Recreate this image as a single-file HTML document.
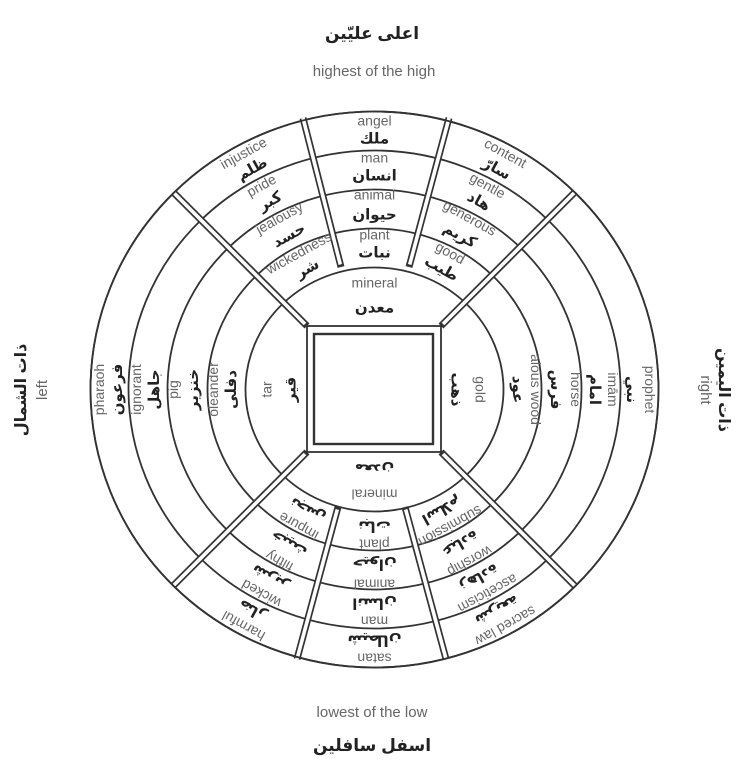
<!DOCTYPE html>
<html><head><meta charset="utf-8"><style>
html,body{margin:0;padding:0;background:#fff;}
svg{display:block;}
.e{font-family:"Liberation Sans",sans-serif;font-size:14px;fill:#666;text-anchor:middle;}
.a{font-family:"Liberation Sans","Noto Sans CJK SC","DejaVu Sans",sans-serif;font-size:15px;font-weight:bold;fill:#222;text-anchor:middle;}
.ring{fill:none;stroke:#333;stroke-width:1.8;}
.dk{stroke:#333;stroke-width:7;}
.wt{stroke:#fff;stroke-width:3.6;}
</style></head><body>
<svg width="751" height="768" viewBox="0 0 751 768" xmlns="http://www.w3.org/2000/svg">
<rect width="751" height="768" fill="#fff"/>
<text x="372" y="39" class="a" style="font-size:17px">اعلى عليّين</text>
<text x="374" y="76" class="e" style="font-size:15px">highest of the high</text>
<text x="372" y="717" class="e" style="font-size:15px">lowest of the low</text>
<text x="372" y="751" class="a" style="font-size:17px">اسفل سافلين</text>
<text transform="translate(26,390) rotate(-90)" class="a" style="font-size:16px">ذات الشمال</text>
<text transform="translate(47,390) rotate(-90)" class="e" style="font-size:15px">left</text>
<text transform="translate(719,390) rotate(90)" class="a" style="font-size:16px">ذات اليمين</text>
<text transform="translate(701,390) rotate(90)" class="e" style="font-size:15px">right</text>

<g class="ring">
<ellipse cx="374.5" cy="389.5" rx="284" ry="278"/>
<ellipse cx="374.5" cy="389.5" rx="246" ry="239"/>
<ellipse cx="374.5" cy="389.5" rx="207" ry="200"/>
<ellipse cx="374.5" cy="389.5" rx="167" ry="161"/>
<ellipse cx="374.5" cy="389.5" rx="129" ry="122"/>
</g>
<rect x="307" y="326" width="134" height="126" fill="#fff" stroke="#333" stroke-width="1.8"/>

<g class="dk">
<line x1="307" y1="326" x2="174" y2="193"/>
<line x1="441" y1="326" x2="575" y2="192"/>
<line x1="307" y1="452" x2="173.5" y2="585.5"/>
<line x1="441" y1="452" x2="575" y2="586"/>
<line x1="341" y1="267" x2="303" y2="118"/>
<line x1="409" y1="267" x2="449" y2="118"/>
<line x1="338" y1="507" x2="297" y2="659"/>
<line x1="405" y1="507" x2="446" y2="659"/>
</g>
<g class="wt">
<line x1="305" y1="324" x2="174" y2="193"/>
<line x1="443" y1="324" x2="575" y2="192"/>
<line x1="305" y1="454" x2="173.5" y2="585.5"/>
<line x1="443" y1="454" x2="575" y2="586"/>
<line x1="340.3" y1="264.5" x2="303" y2="118"/>
<line x1="409.7" y1="264.5" x2="449" y2="118"/>
<line x1="337.3" y1="509.5" x2="297" y2="659"/>
<line x1="405.7" y1="509.5" x2="446" y2="659"/>
</g>
<ellipse cx="374.5" cy="389.5" rx="284" ry="278" class="ring"/>
<rect x="314" y="334" width="119" height="110" fill="#fff" stroke="#333" stroke-width="2.4"/>

<g transform="translate(374.5,389.5)">
 <g>
  <text class="e" y="-264">angel</text><text class="a" y="-246">ملك</text>
  <text class="e" y="-227">man</text><text class="a" y="-209">انسان</text>
  <text class="e" y="-190">animal</text><text class="a" y="-170">حيوان</text>
  <text class="e" y="-150">plant</text><text class="a" y="-132">نبات</text>
  <text class="e" y="-102">mineral</text><text class="a" y="-77">معدن</text>
 </g>
 <g transform="rotate(-29)">
  <text class="e" y="-265.5">injustice</text><text class="a" y="-247.5">ظلم</text>
  <text class="e" y="-228.5">pride</text><text class="a" y="-210.5">كبر</text>
  <text class="e" y="-191.5">jealousy</text><text class="a" y="-171.5">حسد</text>
  <text class="e" y="-151.5">wickedness</text><text class="a" y="-133.5">شر</text>
 </g>
 <g transform="rotate(29)">
  <text class="e" y="-265.5">content</text><text class="a" y="-247.5">سارّ</text>
  <text class="e" y="-228.5">gentle</text><text class="a" y="-210.5">هاد</text>
  <text class="e" y="-191.5">generous</text><text class="a" y="-171.5">كريم</text>
  <text class="e" y="-151.5">good</text><text class="a" y="-133.5">طيب</text>
 </g>
 <g transform="rotate(90)">
  <text class="e" y="-270.5">prophet</text><text class="a" y="-252.5">نبي</text>
  <text class="e" y="-233.5">imām</text><text class="a" y="-215.5">امام</text>
  <text class="e" y="-196.5">horse</text><text class="a" y="-176.5">فرس</text>
  <text class="e" y="-156.5">alous wood</text><text class="a" y="-138.5">عود</text>
  <text class="e" y="-101">gold</text><text class="a" y="-77">ذهب</text>
 </g>
 <g transform="rotate(-90)">
  <text class="e" y="-270.5">pharaoh</text><text class="a" y="-252.5">فرعون</text>
  <text class="e" y="-233.5">ignorant</text><text class="a" y="-215.5">جاهل</text>
  <text class="e" y="-196.5">pig</text><text class="a" y="-176.5">خنزير</text>
  <text class="e" y="-156.5">oleander</text><text class="a" y="-138.5">دفلى</text>
  <text class="e" y="-103">tar</text><text class="a" y="-79">قير</text>
 </g>
 <g transform="rotate(180)">
  <text class="e" y="-264">satan</text><text class="a" y="-246">شيطان</text>
  <text class="e" y="-227">man</text><text class="a" y="-209">انسان</text>
  <text class="e" y="-190">animal</text><text class="a" y="-170">حيوان</text>
  <text class="e" y="-150">plant</text><text class="a" y="-132">نبات</text>
  <text class="e" y="-100">mineral</text><text class="a" y="-75">معدن</text>
 </g>
 <g transform="rotate(151)">
  <text class="e" y="-265.5">sacred law</text><text class="a" y="-247.5">شريعة</text>
  <text class="e" y="-228.5">asceticism</text><text class="a" y="-210.5">زهادة</text>
  <text class="e" y="-191.5">worship</text><text class="a" y="-171.5">عبادة</text>
  <text class="e" y="-151.5">submission</text><text class="a" y="-133.5">اسلام</text>
 </g>
 <g transform="rotate(209)">
  <text class="e" y="-265.5">harmful</text><text class="a" y="-247.5">ضار</text>
  <text class="e" y="-228.5">wicked</text><text class="a" y="-210.5">شرير</text>
  <text class="e" y="-191.5">filthy</text><text class="a" y="-171.5">خبيث</text>
  <text class="e" y="-151.5">impure</text><text class="a" y="-133.5">نجس</text>
 </g>
</g>
</svg>
</body></html>
